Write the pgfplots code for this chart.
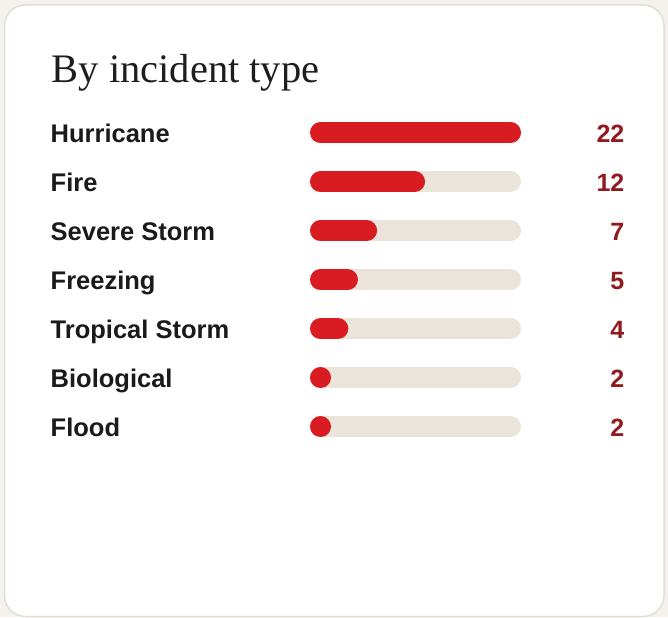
\documentclass[border=0pt]{standalone}
\usepackage{pgfplots}
\usepackage{pgfplotstable}
\pgfplotsset{compat=1.18}
\usepackage{fontspec}
\setmainfont{Liberation Serif}
\newfontfamily\labelfont{Liberation Sans}
\definecolor{outerbg}{HTML}{F4F2ED}
\definecolor{cardborder}{HTML}{E3DED4}
\definecolor{track}{HTML}{EBE4DA}
\definecolor{barred}{HTML}{D91B22}
\definecolor{valred}{HTML}{921A1E}
\definecolor{labelink}{HTML}{1A1A1A}
\definecolor{titleink}{HTML}{1E1E1E}

\pgfplotstableread[col sep=comma]{
label,value,y
Hurricane,22,132.7
Fire,12,181.7
Severe Storm,7,230.7
Freezing,5,279.7
Tropical Storm,4,328.7
Biological,2,377.7
Flood,2,426.7
}\incidents

\begin{document}
\begin{tikzpicture}
\begin{axis}[
  width=668pt, height=617pt, scale only axis,
  xmin=0, xmax=668, ymin=0, ymax=617, y dir=reverse,
  hide axis, clip=false,
]
% card background
\fill[outerbg] (axis cs:0,0) rectangle (axis cs:668,617);
\filldraw[fill=white, draw=cardborder, line width=1.5pt, rounded corners=21pt]
  (axis cs:4.5,5) rectangle (axis cs:664,616.5);
\node[anchor=base west, inner sep=0pt, text=titleink, font=\fontsize{40.5}{46}\selectfont]
  at (axis cs:51.5,82.5) {By incident type};

% tracks
\addplot[track, mark=none, line width=21pt, line cap=round,
  quiver={u=190, v=0}] table[x expr=320.5, y=y] {\incidents};
% bars
\addplot[barred, mark=none, line width=21pt, line cap=round,
  quiver={u={max(\thisrow{value}*211/22-21,0.01)}, v=0}] table[x expr=320.5, y=y] {\incidents};

% category labels
\addplot[draw=none, mark=none, point meta=explicit symbolic,
  nodes near coords,
  nodes near coords style={anchor=base west, inner sep=0pt, text=labelink,
    font=\labelfont\bfseries\fontsize{25.5}{30}\selectfont}]
  table[x expr=50.5, y expr=\thisrow{y}+9.8, meta=label] {\incidents};
% value labels
\addplot[draw=none, mark=none, point meta=explicit symbolic,
  nodes near coords,
  nodes near coords style={anchor=base east, inner sep=0pt, text=valred,
    font=\labelfont\bfseries\fontsize{25}{30}\selectfont}]
  table[x expr=624.5, y expr=\thisrow{y}+9.8, meta=value] {\incidents};
\end{axis}
\end{tikzpicture}
\end{document}
